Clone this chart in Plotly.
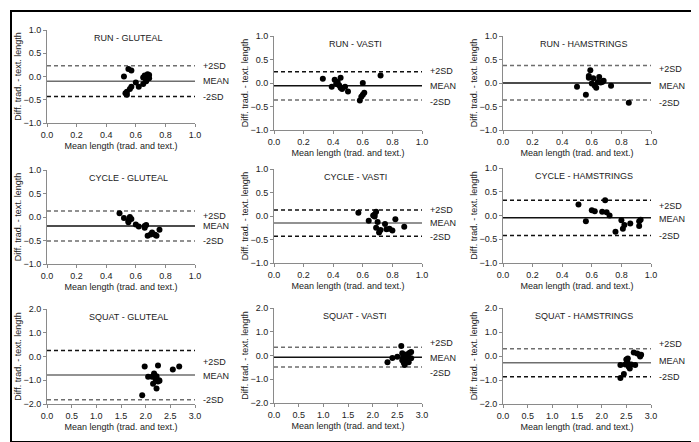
import plotly.graph_objects as go

W, H = 699, 442

# ---- data ----
titles = ["RUN - GLUTEAL", "RUN - VASTI", "RUN - HAMSTRINGS",
          "CYCLE - GLUTEAL", "CYCLE - VASTI", "CYCLE - HAMSTRINGS",
          "SQUAT - GLUTEAL", "SQUAT - VASTI", "SQUAT - HAMSTRINGS"]

run_glut_x = [0.52, 0.55, 0.57, 0.53, 0.54, 0.54, 0.56, 0.57, 0.60, 0.62,
              0.65, 0.65, 0.66, 0.67, 0.68, 0.69, 0.69, 0.67]
run_glut_y = [0.00, 0.16, 0.13, -0.36, -0.39, -0.33, -0.27, -0.22, -0.13, -0.22,
              -0.16, -0.02, 0.02, -0.08, 0.05, 0.03, -0.04, -0.10]

run_vast_x = [0.33, 0.39, 0.41, 0.42, 0.43, 0.44, 0.45, 0.45, 0.46, 0.48,
              0.50, 0.58, 0.59, 0.60, 0.60, 0.61, 0.72]
run_vast_y = [0.09, -0.08, 0.07, -0.02, 0.02, -0.05, 0.11, -0.10, -0.13, -0.08,
              -0.18, -0.37, -0.29, 0.00, -0.25, -0.21, 0.16]

run_ham_x = [0.50, 0.56, 0.58, 0.58, 0.59, 0.60, 0.61, 0.62, 0.63, 0.64,
             0.65, 0.66, 0.67, 0.68, 0.73, 0.85]
run_ham_y = [-0.08, -0.25, 0.15, 0.11, 0.27, -0.01, 0.10, -0.06, -0.10, 0.02,
             0.13, 0.01, 0.02, 0.05, -0.06, -0.42]

cyc_glut_x = [0.49, 0.52, 0.55, 0.55, 0.56, 0.57, 0.60, 0.62, 0.66, 0.66,
              0.67, 0.68, 0.70, 0.71, 0.73, 0.74, 0.76]
cyc_glut_y = [0.08, -0.02, -0.08, -0.11, 0.00, -0.04, -0.16, -0.20, -0.23, -0.19,
              -0.17, -0.40, -0.37, -0.33, -0.38, -0.40, -0.27]

cyc_vast_x = [0.57, 0.64, 0.67, 0.68, 0.68, 0.69, 0.69, 0.70, 0.71, 0.72,
              0.75, 0.76, 0.78, 0.80, 0.82, 0.88]
cyc_vast_y = [0.07, -0.10, 0.01, 0.03, -0.01, 0.09, -0.25, -0.13, -0.35, -0.30,
              -0.17, -0.28, -0.27, -0.31, -0.07, -0.23]

cyc_ham_x = [0.51, 0.56, 0.60, 0.62, 0.67, 0.69, 0.70, 0.72, 0.76, 0.80,
             0.81, 0.82, 0.86, 0.92, 0.92, 0.93]
cyc_ham_y = [0.23, -0.12, 0.11, 0.09, 0.08, 0.32, 0.07, 0.00, -0.34, -0.10,
             -0.28, -0.20, -0.17, -0.12, -0.22, -0.09]

sq_glut_x = [1.93, 1.98, 2.05, 2.13, 2.15, 2.17, 2.20, 2.22, 2.22, 2.25,
             2.25, 2.27, 2.28, 2.55, 2.68]
sq_glut_y = [-1.63, -0.42, -0.85, -0.85, -1.15, -0.72, -0.95, -1.35, -0.83, -0.38,
             -1.05, -1.00, -1.02, -0.55, -0.42]

sq_vast_x = [2.30, 2.40, 2.50, 2.58, 2.60, 2.60, 2.62, 2.63, 2.65, 2.67,
             2.70, 2.72, 2.73, 2.75, 2.78, 2.78]
sq_vast_y = [-0.28, -0.10, -0.05, 0.40, 0.10, -0.20, -0.05, -0.30, -0.40, -0.15,
             0.05, -0.05, -0.28, 0.12, 0.15, -0.12]

sq_ham_x = [2.38, 2.38, 2.45, 2.48, 2.50, 2.52, 2.53, 2.55, 2.57, 2.60,
            2.65, 2.68, 2.72, 2.77, 2.78, 2.80]
sq_ham_y = [-0.92, -0.38, -0.75, -0.35, -0.15, -0.25, -0.10, -0.45, -0.52, -0.35,
            0.15, -0.38, 0.10, 0.05, -0.02, 0.05]

xs = [run_glut_x, run_vast_x, run_ham_x, cyc_glut_x, cyc_vast_x, cyc_ham_x,
      sq_glut_x, sq_vast_x, sq_ham_x]
ys = [run_glut_y, run_vast_y, run_ham_y, cyc_glut_y, cyc_vast_y, cyc_ham_y,
      sq_glut_y, sq_vast_y, sq_ham_y]

mean_diff = [-0.10, -0.06, 0.00, -0.19, -0.15, -0.05, -0.78, -0.07, -0.28]
upper_sd = [0.23, 0.24, 0.37, 0.13, 0.13, 0.32, 0.25, 0.35, 0.30]
lower_sd = [-0.43, -0.36, -0.36, -0.51, -0.43, -0.42, -1.82, -0.48, -0.86]

x_ranges = [[0, 1]] * 6 + [[0, 3]] * 3
y_ranges = [[-1, 1]] * 6 + [[-2, 2]] * 3
x_dticks = [0.2] * 6 + [0.5] * 3
y_dticks = [0.5] * 6 + [1.0] * 3

# ---- panel placement in pixels ----
col_px = [(39, 187), (266, 414), (495, 643)]
row_px = [(22, 115), (28, 122), (28, 122),
          (162, 256), (161, 255), (160, 255),
          (301, 396), (300, 395), (300, 396)]

# vertical nudges (px) of the +2SD / MEAN / -2SD labels, as placed in the original
label_shift = [(0, 0, -1), (1, 0, -2), (-3, -3, -3),
               (-5, 0, 0), (0, 0, -1), (-6, -1, -1),
               (-11, -1, 0), (4, -1, -6), (5, 2, 0)]

# line shades (the scanned original renders some lines lighter)
DARK, GREY = "#111111", "#6e6e6e"
line_cols = [(GREY, GREY, DARK), (DARK, DARK, GREY), (GREY, DARK, GREY),
             (GREY, DARK, GREY), (DARK, GREY, DARK), (DARK, DARK, DARK),
             (DARK, GREY, GREY), (GREY, DARK, GREY), (GREY, GREY, DARK)]

FONT = "Liberation Sans, Arial, sans-serif"
AXC = "#8a8a8a"
TXT = "#222222"

fig = go.Figure()
layout = dict(
    width=W, height=H,
    margin=dict(l=0, r=0, t=0, b=0),
    paper_bgcolor="white", plot_bgcolor="white",
    showlegend=False,
    font=dict(family=FONT, size=9, color=TXT),
)
annotations = []

for i in range(9):
    n = "" if i == 0 else str(i + 1)
    xa, ya = "x" + n, "y" + n
    x0, x1 = col_px[i % 3]
    top, bot = row_px[i]

    layout["xaxis" + n] = dict(
        domain=[x0 / W, x1 / W], anchor=ya, range=x_ranges[i],
        dtick=x_dticks[i], tick0=0, tickformat=".1f",
        showgrid=False, zeroline=False, showline=True, linecolor=AXC, linewidth=1,
        ticks="outside", ticklen=3, tickcolor=AXC,
        tickfont=dict(size=9, color=TXT),
        title=dict(text="Mean length (trad. and text.)", font=dict(size=9, color=TXT), standoff=3),
        automargin=False,
    )
    layout["yaxis" + n] = dict(
        domain=[1 - bot / H, 1 - top / H], anchor=xa, range=y_ranges[i],
        dtick=y_dticks[i], tick0=0, tickformat=".1f",
        showgrid=False, zeroline=False, showline=True, linecolor=AXC, linewidth=1,
        ticks="outside", ticklen=3, tickcolor=AXC,
        tickfont=dict(size=9, color=TXT),
        title=dict(text="Diff. trad. - text. length", font=dict(size=9, color=TXT), standoff=0),
        automargin=False,
    )

    # limits of agreement and mean
    xr = x_ranges[i]
    cu, cm, cl = line_cols[i]
    for val, dash, col in [(upper_sd[i], "4px,3px", cu), (mean_diff[i], "solid", cm),
                           (lower_sd[i], "4px,3px", cl)]:
        fig.add_trace(go.Scatter(
            x=xr, y=[val, val], xaxis=xa, yaxis=ya, mode="lines",
            line=dict(color=col, width=1.5, dash=dash), hoverinfo="skip",
        ))

    fig.add_trace(go.Scatter(
        x=xs[i], y=ys[i], xaxis=xa, yaxis=ya, mode="markers",
        marker=dict(color="black", size=6),
    ))

    su, sm, sl = label_shift[i]
    for val, label, shift in [(upper_sd[i], "+2SD", su), (mean_diff[i], "MEAN", sm),
                              (lower_sd[i], "-2SD", sl)]:
        annotations.append(dict(
            x=1, xref=xa + " domain", y=val, yref=ya, text=label,
            xanchor="left", yanchor="middle", xshift=6, yshift=shift,
            showarrow=False, font=dict(size=9, color=TXT),
        ))

    annotations.append(dict(
        x=0.55, xref=xa + " domain", y=1, yref=ya + " domain", text=titles[i],
        xanchor="center", yanchor="top", yshift=-1,
        showarrow=False, font=dict(size=9, color=TXT),
    ))

layout["annotations"] = annotations
layout["shapes"] = [dict(
    type="rect", xref="paper", yref="paper",
    x0=3 / W, x1=696 / W, y0=1 - 434 / H, y1=1 - 3 / H,
    line=dict(color="black", width=2),
)]

fig.update_layout(**layout)
fig.write_html("out.html")
